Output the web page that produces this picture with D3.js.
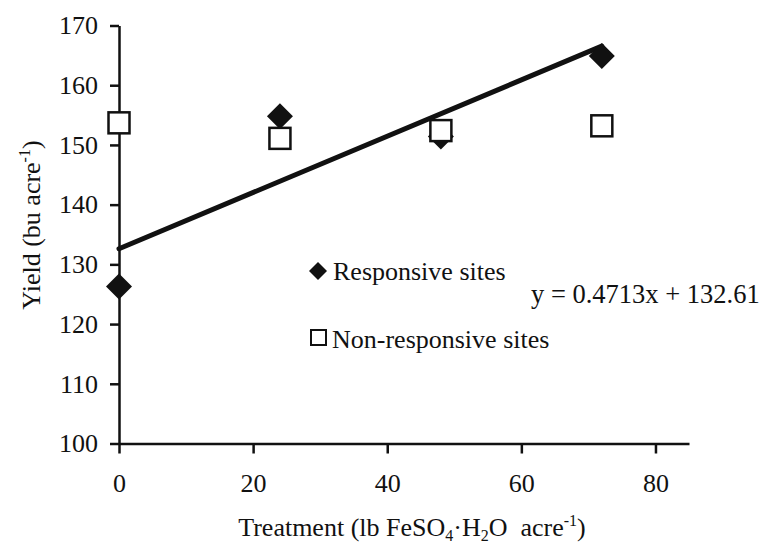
<!DOCTYPE html>
<html>
<head>
<meta charset="utf-8">
<script src="https://cdn.jsdelivr.net/npm/d3@7"></script>
<style>
  html, body { margin: 0; padding: 0; background: #fff; }
  svg { display: block; font-family: "Liberation Serif", "Times New Roman", serif; }
  .axis path, .axis line { stroke: #111; stroke-width: 2.5; }
</style>
</head>
<body>
<svg id="chart" width="767" height="547"></svg>
<script>
// treatment rates (lb FeSO4·H2O / acre)
const treatments = [0, 24, 48, 72];
const responsive = [126.3, 154.8, 151.4, 164.9];
const nonResponsive = [153.7, 151.1, 152.4, 153.2];
const xTicks = [0, 20, 40, 60, 80];
const yTicks = [100, 110, 120, 130, 140, 150, 160, 170];
const slope = 0.4713;
const intercept = 132.61;
const legendLabels = ['Responsive sites', 'Non-responsive sites'];

const svg = d3.select('#chart');
const margin = {top: 25.5, left: 119, right: 78, bottom: 103.5};
const width = 767 - margin.left - margin.right;
const height = 547 - margin.top - margin.bottom;

const x = d3.scaleLinear().domain([0, 85]).range([0, width]);
const y = d3.scaleLinear().domain([100, 170]).range([height, 0]);

const g = svg.append('g').attr('transform', `translate(${margin.left},${margin.top})`);

g.append('g')
    .attr('class', 'axis')
    .attr('transform', `translate(0,${height})`)
    .call(d3.axisBottom(x).tickValues(xTicks).tickSize(10).tickSizeOuter(0).tickPadding(20))
    .attr('font-family', '"Liberation Serif", serif')
    .attr('font-size', 26);

g.append('g')
    .attr('class', 'axis')
    .call(d3.axisLeft(y).tickValues(yTicks).tickSize(9).tickSizeOuter(0).tickPadding(12))
    .attr('font-family', '"Liberation Serif", serif')
    .attr('font-size', 26);

g.selectAll('.axis text').attr('fill', '#111');

// regression line over the responsive sites
const xMax = d3.max(treatments);
g.append('line')
    .attr('x1', x(0)).attr('y1', y(intercept))
    .attr('x2', x(xMax)).attr('y2', y(slope * xMax + intercept))
    .attr('stroke', '#111')
    .attr('stroke-width', 5)
    .attr('stroke-linecap', 'round');

const diamond = d3.symbol(d3.symbolSquare, 338)();
const diamondSmall = d3.symbol(d3.symbolSquare, 162)();

g.selectAll('.resp')
    .data(treatments.map((t, i) => [t, responsive[i]]))
  .enter().append('path')
    .attr('class', 'resp')
    .attr('d', diamond)
    .attr('fill', '#111')
    .attr('transform', d => `translate(${x(d[0])},${y(d[1])}) rotate(45)`);

g.selectAll('.nonresp')
    .data(treatments.map((t, i) => [t, nonResponsive[i]]))
  .enter().append('rect')
    .attr('class', 'nonresp')
    .attr('x', d => x(d[0]) - 10.5)
    .attr('y', d => y(d[1]) - 10.5)
    .attr('width', 21)
    .attr('height', 21)
    .attr('fill', '#fff')
    .attr('stroke', '#111')
    .attr('stroke-width', 2.5);

// legend
const legend = svg.append('g').attr('font-size', 26).attr('fill', '#111');
legend.append('path')
    .attr('d', diamondSmall)
    .attr('fill', '#111')
    .attr('transform', 'translate(318,271) rotate(45)');
legend.append('text').attr('x', 333).attr('y', 280).text(legendLabels[0]);
legend.append('rect')
    .attr('x', 311).attr('y', 330).attr('width', 15).attr('height', 15)
    .attr('fill', '#fff').attr('stroke', '#111').attr('stroke-width', 2);
legend.append('text').attr('x', 332).attr('y', 348).text(legendLabels[1]);

// equation
svg.append('text')
    .attr('x', 531).attr('y', 303)
    .attr('font-size', 26.5).attr('fill', '#111')
    .text(`y = ${slope}x + ${intercept}`);

// axis titles
const xt = svg.append('text')
    .attr('x', 412).attr('y', 536)
    .attr('text-anchor', 'middle')
    .attr('font-size', 26).attr('fill', '#111');
xt.append('tspan').text('Treatment (lb FeSO');
xt.append('tspan').attr('font-size', 16).attr('dy', 5).text('4');
xt.append('tspan').attr('dy', -5).text('·H');
xt.append('tspan').attr('font-size', 16).attr('dy', 5).text('2');
xt.append('tspan').attr('dy', -5).text('O\u00a0 acre');
xt.append('tspan').attr('font-size', 16).attr('dy', -10).text('-1');
xt.append('tspan').attr('dy', 10).text(')');

const yt = svg.append('text')
    .attr('transform', 'translate(40,225) rotate(-90)')
    .attr('text-anchor', 'middle')
    .attr('font-size', 26).attr('fill', '#111');
yt.append('tspan').text('Yield (bu acre');
yt.append('tspan').attr('font-size', 16).attr('dy', -10).text('-1');
yt.append('tspan').attr('dy', 10).text(')');
</script>
</body>
</html>
